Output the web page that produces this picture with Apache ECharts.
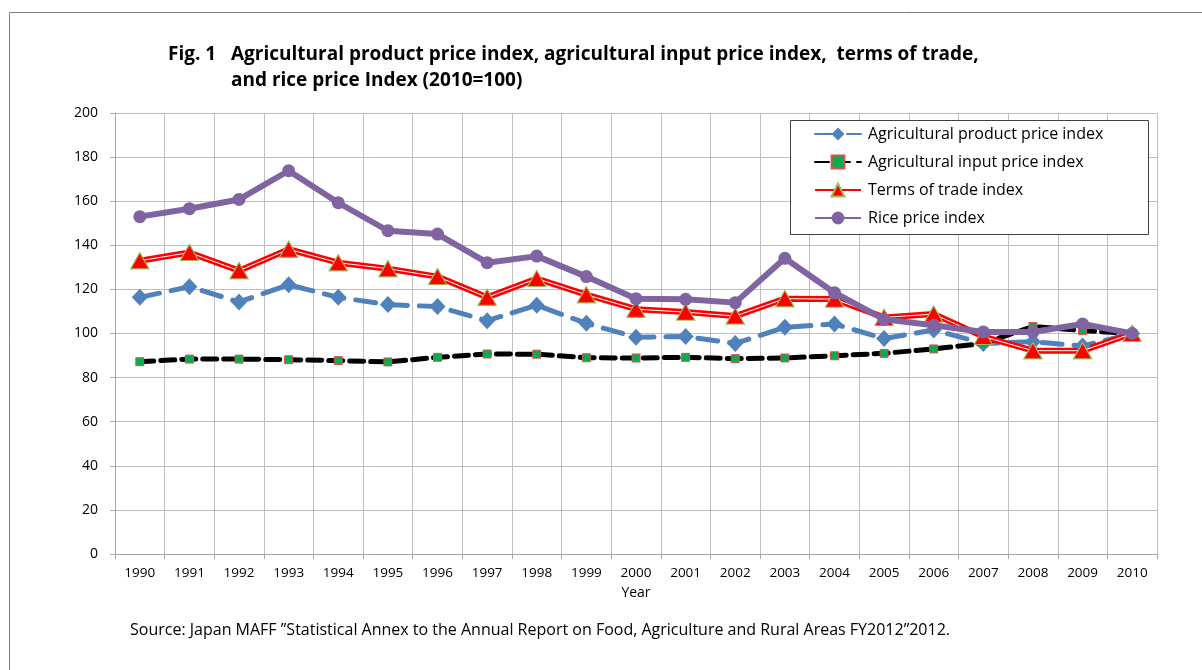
<!DOCTYPE html>
<html><head><meta charset="utf-8">
<script src="https://cdn.jsdelivr.net/npm/echarts@6/dist/echarts.min.js"></script>
<style>html,body{margin:0;padding:0;background:#fff}#c{width:1202px;height:670px}</style>
</head><body><div id="c"></div>
<script>
const years = ['1990','1991','1992','1993','1994','1995','1996','1997','1998','1999','2000','2001','2002','2003','2004','2005','2006','2007','2008','2009','2010'];
const productIdx = [116.4,121.2,114.3,122.1,116.4,113.1,112.2,105.8,112.8,104.6,98.3,98.6,95.5,102.8,104.3,97.7,101.6,95.5,96.3,94.3,100];
const inputIdx = [87.2,88.4,88.4,88.1,87.7,87.1,89.2,90.7,90.6,89.0,88.9,89.2,88.6,88.9,89.9,91.0,93.0,95.5,103.2,101.3,100];
const termsIdx = [133.0,136.7,128.5,138.2,132.1,129.4,125.8,116.4,124.9,117.6,111.0,109.7,107.9,115.8,115.6,107.3,108.8,98.6,92.2,92.2,100];
const riceIdx = [153.0,156.6,160.8,173.8,159.3,146.6,145.1,132.1,135.1,125.8,115.8,115.5,114.0,134.1,118.5,106.4,103.7,100.7,100.7,104.3,100];
const names = ['Agricultural product price index','Agricultural input price index','Terms of trade index','Rice price index'];
const yTicks = {min:0, max:200, interval:20};

const FONT = 'Open Sans';
const chart = echarts.init(document.getElementById('c'), null, {renderer:'canvas'});
chart.setOption({
  animation:false,
  backgroundColor:'#fff',
  textStyle:{fontFamily:FONT},
  title:[
    {text:'Fig. 1   Agricultural product price index, agricultural input price index,  terms of trade,', left:168, top:45, padding:0,
     textStyle:{fontFamily:FONT, fontSize:19, fontWeight:'bold', color:'#000'}},
    {text:'and rice price Index (2010=100)', left:231, top:71, padding:0,
     textStyle:{fontFamily:FONT, fontSize:19, fontWeight:'bold', color:'#000'}},
    {text:'Source: Japan MAFF \u201dStatistical Annex to the Annual Report on Food, Agriculture and Rural Areas FY2012\u201d2012.', left:130, top:622, padding:0,
     textStyle:{fontFamily:FONT, fontSize:16, fontWeight:'normal', color:'#000'}}
  ],
  graphic:[
    {type:'rect', shape:{x:9.5, y:12.5, width:1400, height:900}, style:{fill:'none', stroke:'#7f7f7f', lineWidth:1}, z:0, silent:true},
    {type:'rect', shape:{x:790.5, y:120.5, width:358, height:114}, style:{fill:'#fff', stroke:'#404040', lineWidth:1}, z:3, silent:true}
  ],
  legend:{
    data:names, orient:'vertical', left:814, top:126, padding:0, itemGap:12,
    itemWidth:46, itemHeight:16, z:5,
    textStyle:{fontFamily:FONT, fontSize:16, color:'#000', padding:[0,0,0,2]}
  },
  grid:{left:115, right:45, top:113, bottom:116, containLabel:false},
  xAxis:{
    type:'category', data:years, boundaryGap:true,
    name:'Year', nameLocation:'middle', nameGap:32,
    nameTextStyle:{fontFamily:FONT, fontSize:14, color:'#000'},
    axisLine:{lineStyle:{color:'#a6a6a6'}},
    axisTick:{show:true, length:5, lineStyle:{color:'#a6a6a6'}},
    axisLabel:{fontFamily:FONT, fontSize:13.5, color:'#000', margin:12, interval:0},
    splitLine:{show:true, lineStyle:{color:'#bfbfbf', width:1}}
  },
  yAxis:{
    type:'value', min:yTicks.min, max:yTicks.max, interval:yTicks.interval,
    axisLine:{show:true, lineStyle:{color:'#a6a6a6'}},
    axisTick:{show:true, length:5, lineStyle:{color:'#a6a6a6'}},
    axisLabel:{fontFamily:FONT, fontSize:14, color:'#000', margin:17},
    splitLine:{show:true, lineStyle:{color:'#bfbfbf', width:1}}
  },
  series:[
    {name:names[0], type:'line', data:productIdx, z:2,
     lineStyle:{color:'#4f81bd', width:5, type:[20,12], cap:'round'},
     itemStyle:{color:'#4f81bd'}, symbol:'diamond', symbolSize:[16,17]},
    {name:names[1], type:'line', data:inputIdx, z:2,
     lineStyle:{color:'#000', width:5, type:[14,7], cap:'round'},
     itemStyle:{color:'#00b050', borderColor:'#e0504d', borderWidth:1}, symbol:'rect', symbolSize:8},
    {name:names[2], type:'line', data:termsIdx, z:2,
     lineStyle:{color:'#ff0000', width:6},
     itemStyle:{color:'#ff0000', borderColor:'#9bbb59', borderWidth:1}, symbol:'triangle', symbolSize:[18,16]},
    {name:'tt-inner', type:'line', data:termsIdx, z:3, silent:true,
     lineStyle:{color:'#ffffff', width:1}, symbol:'none'},
    {name:'tt-markers', type:'line', data:termsIdx, z:4, silent:true,
     lineStyle:{opacity:0}, symbol:'triangle', symbolSize:[18,16],
     itemStyle:{color:'#ff0000', borderColor:'#9bbb59', borderWidth:1}},
    {name:names[3], type:'line', data:riceIdx, z:5,
     lineStyle:{color:'#8064a2', width:6},
     itemStyle:{color:'#8064a2'}, symbol:'circle', symbolSize:13}
  ]
});
</script></body></html>
